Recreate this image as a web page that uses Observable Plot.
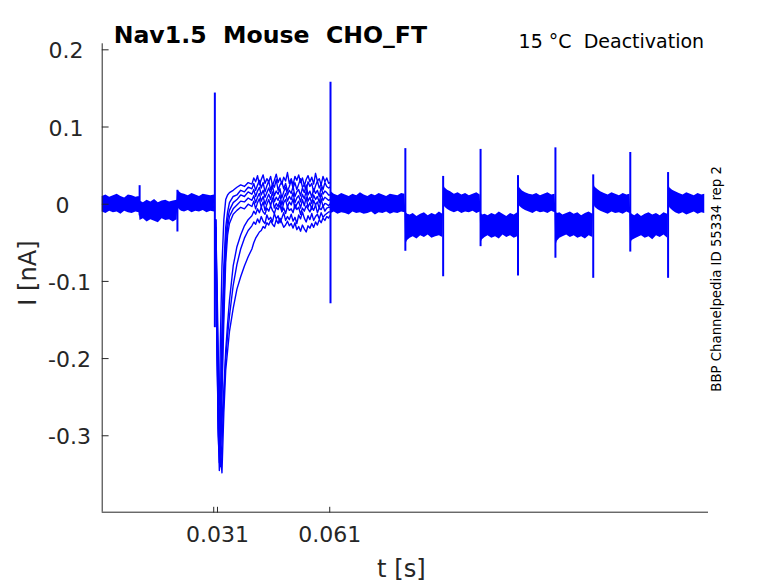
<!DOCTYPE html>
<html><head><meta charset="utf-8">
<script src="https://cdn.jsdelivr.net/npm/d3@7"></script>
<script src="https://cdn.jsdelivr.net/npm/@observablehq/plot@0.6"></script>
<style>html,body{margin:0;padding:0;background:#fff;} svg text{white-space:pre;}</style>
</head><body><div id="chart"></div>
<script>
// ---- texts ----
const titleText = "Nav1.5  Mouse  CHO_FT";
const conditionText = "15 °C  Deactivation";
const sideText = "BBP Channelpedia ID 55334 rep 2";
const xLabel = "t [s]";
const yLabel = "I [nA]";

// ---- ticks (time in ms, current in nA) ----
const xTicks = [30, 31, 61];
const xTickLabels = ["", "0.031", "0.061"];
const yTicks = [0.2, 0.1, 0, -0.1, -0.2, -0.3];

// ---- common noise band before the test step (time ms, low/high nA) ----
const preT  = [0.2, 1.2, 2.2, 3.2, 4.2, 5.2, 6.2, 7.2, 8.2, 9.2, 10.1,
               10.3, 11.2, 12.2, 13.2, 14.2, 15.2, 16.2, 17.2, 18.2, 19.2, 20.2,
               20.4, 20.8, 21.4, 22.2, 23.2, 24.2, 25.2, 26.2, 27.2, 28.2, 29.2, 30.2];
const preHi = [0.010, 0.012, 0.009, 0.011, 0.013, 0.010, 0.008, 0.012, 0.011, 0.009, 0.010,
               0.004, 0.002, 0.005, 0.003, 0.006, 0.002, 0.004, 0.005, 0.003, 0.004, 0.005,
               0.018, 0.016, 0.014, 0.013, 0.011, 0.014, 0.012, 0.010, 0.013, 0.012, 0.011, 0.012];
const preLo = [-0.010, -0.012, -0.009, -0.011, -0.010, -0.013, -0.009, -0.011, -0.012, -0.010, -0.011,
               -0.021, -0.019, -0.023, -0.020, -0.022, -0.024, -0.019, -0.021, -0.020, -0.023, -0.020,
               -0.004, -0.007, -0.009, -0.010, -0.008, -0.011, -0.009, -0.010, -0.008, -0.011, -0.009, -0.010];

// ---- common noise band after the test step ----
const postT = [61.4, 62.2, 63.2, 64.2, 65.2, 66.2, 67.2, 68.2, 69.2, 70.2, 71.2, 72.2, 73.2, 74.2, 75.2, 76.2, 77.2, 78.2, 79.2, 80.2, 81.1,
  81.3, 81.8, 82.5, 83.3, 84.3, 85.3, 86.3, 87.3, 88.3, 89.3, 90.3, 91.2,
  91.4, 91.8, 92.5, 93.3, 94.3, 95.3, 96.3, 97.3, 98.3, 99.3, 100.3, 101.2,
  101.4, 101.8, 102.5, 103.3, 104.3, 105.3, 106.3, 107.3, 108.3, 109.3, 110.3, 111.2,
  111.4, 111.8, 112.5, 113.3, 114.3, 115.3, 116.3, 117.3, 118.3, 119.3, 120.3, 121.2,
  121.4, 121.8, 122.5, 123.3, 124.3, 125.3, 126.3, 127.3, 128.3, 129.3, 130.3, 131.3,
  131.5, 131.9, 132.6, 133.4, 134.4, 135.4, 136.4, 137.4, 138.4, 139.4, 140.4, 141.2,
  141.4, 141.8, 142.5, 143.3, 144.3, 145.3, 146.3, 147.3, 148.3, 149.3, 150.3, 151.3,
  151.5, 151.9, 152.6, 153.4, 154.4, 155.4, 156.4, 157.4, 158.4, 159.4, 160.4, 161.2];
const postHi = [0.016, 0.013, 0.011, 0.014, 0.012, 0.010, 0.013, 0.011, 0.015, 0.012, 0.010, 0.013, 0.011, 0.014, 0.012, 0.010, 0.013, 0.012, 0.011, 0.014, 0.013,
  -0.010, -0.013, -0.014, -0.012, -0.016, -0.013, -0.011, -0.015, -0.012, -0.014, -0.010, -0.013,
  0.026, 0.021, 0.018, 0.016, 0.013, 0.015, 0.012, 0.014, 0.011, 0.013, 0.015, 0.012,
  -0.011, -0.014, -0.013, -0.015, -0.012, -0.014, -0.010, -0.013, -0.016, -0.012, -0.014, -0.011,
  0.025, 0.021, 0.017, 0.015, 0.013, 0.012, 0.014, 0.011, 0.013, 0.015, 0.012, 0.013,
  -0.009, -0.012, -0.011, -0.014, -0.012, -0.010, -0.013, -0.011, -0.015, -0.012, -0.010, -0.013,
  0.027, 0.022, 0.019, 0.016, 0.014, 0.012, 0.015, 0.013, 0.011, 0.014, 0.012, 0.013,
  -0.010, -0.013, -0.015, -0.012, -0.016, -0.013, -0.011, -0.014, -0.012, -0.015, -0.011, -0.013,
  0.026, 0.021, 0.018, 0.016, 0.014, 0.012, 0.015, 0.013, 0.011, 0.014, 0.012, 0.013];
const postLo = [-0.012, -0.010, -0.013, -0.011, -0.012, -0.014, -0.010, -0.012, -0.011, -0.013, -0.012, -0.010, -0.014, -0.011, -0.012, -0.010, -0.013, -0.011, -0.012, -0.010, -0.011,
  -0.052, -0.047, -0.044, -0.042, -0.045, -0.041, -0.043, -0.040, -0.044, -0.042, -0.041, -0.043,
  0.000, -0.004, -0.007, -0.009, -0.011, -0.009, -0.012, -0.010, -0.011, -0.009, -0.012, -0.010,
  -0.050, -0.046, -0.043, -0.041, -0.044, -0.042, -0.045, -0.040, -0.043, -0.041, -0.044, -0.042,
  0.001, -0.003, -0.006, -0.008, -0.010, -0.012, -0.009, -0.011, -0.010, -0.012, -0.009, -0.011,
  -0.054, -0.048, -0.044, -0.042, -0.040, -0.043, -0.041, -0.044, -0.042, -0.045, -0.041, -0.043,
  0.001, -0.004, -0.007, -0.009, -0.011, -0.013, -0.010, -0.012, -0.011, -0.013, -0.010, -0.012,
  -0.052, -0.047, -0.045, -0.043, -0.041, -0.044, -0.042, -0.046, -0.041, -0.043, -0.040, -0.044,
  0.000, -0.005, -0.008, -0.011, -0.013, -0.011, -0.014, -0.012, -0.010, -0.013, -0.011, -0.012];

// ---- capacitive transients ----
const spikeT  = [10.2, 20.3, 30.3, 61.2, 81.2, 91.3, 101.3, 111.3, 121.3, 131.4, 141.3, 151.4];
const spikeHi = [0.024, 0.018, 0.144, 0.158, 0.072, 0.036, 0.071, 0.037, 0.073, 0.038, 0.067, 0.041];
const spikeLo = [-0.015, -0.036, -0.160, -0.129, -0.061, -0.094, -0.055, -0.093, -0.070, -0.096, -0.062, -0.096];

// ---- individual sweeps during the test step ----
const sweepT = [30.5, 30.8, 31.2, 31.5, 31.8, 32.2, 32.7, 33.2, 33.7, 34.2, 35.2, 36.2, 37.2, 38.2, 39.2,
  40.2, 40.7, 41.2, 41.7, 42.2, 42.7, 43.2, 43.7, 44.2, 44.7, 45.2, 45.7, 46.2, 46.7, 47.2, 47.7, 48.2, 48.7, 49.2, 49.7,
  50.2, 50.7, 51.2, 51.7, 52.2, 52.7, 53.2, 53.7, 54.2, 54.7, 55.2, 55.7, 56.2, 56.7, 57.2, 57.7, 58.2, 58.7, 59.2, 59.7,
  60.2, 60.7, 61.0];
const sweep1 = [-0.02, -0.12, -0.24, -0.26, -0.17, -0.08, -0.02, 0.006, 0.012, 0.015, 0.018, 0.022, 0.025, 0.023, 0.028,
  0.026, 0.034, 0.029, 0.037, 0.025, 0.032, 0.038, 0.027, 0.033, 0.029, 0.036, 0.024, 0.031, 0.039, 0.028, 0.034, 0.026, 0.035, 0.030, 0.041,
  0.027, 0.033, 0.025, 0.036, 0.031, 0.038, 0.028, 0.034, 0.024, 0.032, 0.037, 0.029, 0.035, 0.026, 0.040, 0.030, 0.033, 0.025, 0.036, 0.029,
  0.034, 0.027, 0.028];
const sweep2 = [-0.02, -0.14, -0.27, -0.30, -0.25, -0.16, -0.08, -0.03, -0.01, 0.002, 0.010, 0.012, 0.018, 0.016, 0.022,
  0.020, 0.027, 0.018, 0.025, 0.031, 0.021, 0.028, 0.016, 0.024, 0.030, 0.019, 0.026, 0.022, 0.032, 0.018, 0.025, 0.029, 0.020, 0.027, 0.017,
  0.023, 0.031, 0.021, 0.028, 0.019, 0.026, 0.033, 0.022, 0.025, 0.018, 0.029, 0.023, 0.027, 0.016, 0.024, 0.030, 0.021, 0.026, 0.019, 0.028,
  0.023, 0.021, 0.022];
const sweep3 = [-0.03, -0.16, -0.29, -0.32, -0.28, -0.19, -0.10, -0.045, -0.02, -0.008, 0.002, 0.006, 0.012, 0.010, 0.016,
  0.013, 0.019, 0.010, 0.017, 0.022, 0.012, 0.018, 0.009, 0.015, 0.021, 0.014, 0.024, 0.011, 0.017, 0.013, 0.020, 0.008, 0.016, 0.022, 0.012,
  0.018, 0.014, 0.023, 0.010, 0.016, 0.019, 0.011, 0.021, 0.015, 0.025, 0.012, 0.017, 0.009, 0.020, 0.014, 0.018, 0.010, 0.022, 0.013, 0.017,
  0.015, 0.012, 0.012];
const sweep4 = [-0.03, -0.15, -0.30, -0.335, -0.31, -0.22, -0.13, -0.06, -0.03, -0.016, -0.006, -0.001, 0.004, 0.003, 0.008,
  0.005, 0.011, 0.002, 0.009, 0.014, 0.004, 0.010, 0.000, 0.007, 0.013, 0.006, 0.016, 0.003, 0.009, 0.005, 0.012, -0.001, 0.008, 0.014, 0.004,
  0.010, 0.006, 0.015, 0.002, 0.008, 0.011, 0.003, 0.013, 0.007, 0.017, 0.004, 0.009, 0.001, 0.012, 0.006, 0.010, 0.002, 0.014, 0.005, 0.009,
  0.007, 0.005, 0.006];
const sweep5 = [-0.03, -0.14, -0.29, -0.345, -0.33, -0.25, -0.15, -0.075, -0.04, -0.025, -0.013, -0.008, -0.004, -0.006, 0.000,
  -0.003, 0.004, -0.006, 0.002, 0.007, -0.004, 0.003, -0.008, 0.000, 0.006, -0.002, 0.008, -0.005, 0.001, -0.003, 0.005, -0.009, 0.002, 0.006, -0.004,
  0.003, -0.001, 0.007, -0.006, 0.000, 0.004, -0.005, 0.006, -0.002, 0.009, -0.004, 0.002, -0.007, 0.005, -0.001, 0.003, -0.006, 0.007, -0.003, 0.001,
  0.000, -0.002, 0.000];
const sweep6 = [-0.02, -0.12, -0.26, -0.32, -0.31, -0.28, -0.24, -0.19, -0.155, -0.125, -0.08, -0.055, -0.04, -0.028, -0.02,
  -0.015, -0.009, -0.013, -0.006, -0.011, -0.004, -0.010, -0.013, -0.005, -0.009, -0.002, -0.008, -0.012, -0.004, -0.007, -0.001, -0.010, -0.005, -0.012, -0.003,
  -0.008, -0.006, -0.011, 0.000, -0.007, -0.004, -0.013, -0.005, -0.009, -0.002, -0.006, -0.010, -0.003, -0.008, -0.001, -0.011, -0.005, -0.007, -0.002, -0.009,
  -0.005, -0.004, -0.004];
const sweep7 = [-0.02, -0.10, -0.23, -0.31, -0.34, -0.31, -0.25, -0.20, -0.17, -0.145, -0.105, -0.078, -0.058, -0.044, -0.034,
  -0.028, -0.023, -0.026, -0.019, -0.024, -0.016, -0.022, -0.025, -0.014, -0.020, -0.017, -0.023, -0.012, -0.019, -0.015, -0.024, -0.018, -0.011, -0.021, -0.016,
  -0.020, -0.013, -0.022, -0.017, -0.025, -0.014, -0.019, -0.010, -0.018, -0.023, -0.015, -0.020, -0.012, -0.021, -0.016, -0.013, -0.019, -0.011, -0.017, -0.014,
  -0.012, -0.010, -0.010];
const sweep8 = [-0.02, -0.08, -0.19, -0.27, -0.32, -0.348, -0.27, -0.215, -0.19, -0.165, -0.135, -0.11, -0.094, -0.08, -0.068,
  -0.058, -0.050, -0.044, -0.040, -0.036, -0.034, -0.029, -0.031, -0.024, -0.027, -0.021, -0.026, -0.029, -0.020, -0.025, -0.018, -0.024, -0.030, -0.027, -0.022,
  -0.028, -0.025, -0.031, -0.024, -0.033, -0.029, -0.035, -0.027, -0.032, -0.036, -0.028, -0.031, -0.025, -0.030, -0.023, -0.027, -0.020, -0.024, -0.018, -0.021,
  -0.016, -0.018, -0.015];
const sweeps = [sweep1, sweep2, sweep3, sweep4, sweep5, sweep6, sweep7, sweep8];

// ---- build tables ----
const preRows = preT.map((t, k) => ({t, lo: preLo[k], hi: preHi[k]}));
const postRows = postT.map((t, k) => ({t, lo: postLo[k], hi: postHi[k]}));
const spikeRows = spikeT.map((t, k) => ({t, lo: spikeLo[k], hi: spikeHi[k]}));
const sweepRows = sweeps.flatMap((s, j) => s.map((v, k) => ({t: sweepT[k], i: v, sweep: j})));
const xTickRows = xTicks.map((t, k) => ({t, label: xTickLabels[k]}));

const blue = "#0000ff";
const axisColor = "#262626";
const font = "DejaVu Sans";
const xDomain = [0.2, 162.2];
const yDomain = [-0.399, 0.2078];
const tickShape = {draw(context, l) { context.moveTo(0, 0); context.lineTo(0, -l); }};
const fmtY = d => String(d);

const chart = Plot.plot({
  width: 778, height: 583,
  marginLeft: 101.7, marginRight: 70, marginTop: 43.3, marginBottom: 71.3,
  style: {fontFamily: font, background: "white", overflow: "visible"},
  x: {domain: xDomain, axis: null},
  y: {domain: yDomain, axis: null},
  marks: [
    Plot.areaY(preRows, {x: "t", y1: "lo", y2: "hi", fill: blue}),
    Plot.areaY(postRows, {x: "t", y1: "lo", y2: "hi", fill: blue}),
    Plot.line(sweepRows, {x: "t", y: "i", z: "sweep", stroke: blue, strokeWidth: 1.4}),
    Plot.ruleX(spikeRows, {x: "t", y1: "lo", y2: "hi", stroke: blue, strokeWidth: 2}),
    Plot.ruleX([xDomain[0]], {stroke: axisColor, strokeWidth: 1}),
    Plot.ruleY([yDomain[0]], {stroke: axisColor, strokeWidth: 1}),
    Plot.vector(yTicks, {x: () => xDomain[0], y: d => d, length: 6, rotate: 90, anchor: "start", shape: tickShape, stroke: axisColor, strokeWidth: 1}),
    Plot.vector(xTicks, {x: d => d, y: () => yDomain[0], length: 5, rotate: 0, anchor: "start", shape: tickShape, stroke: axisColor, strokeWidth: 1}),
    Plot.text(yTicks.filter(d => d > 0), {y: d => d, text: fmtY, frameAnchor: "left", textAnchor: "middle", lineAnchor: "bottom", dx: -36.2, dy: 8.5, fontSize: 22, fill: axisColor}),
    Plot.text(yTicks.filter(d => d === 0), {y: d => d, text: fmtY, frameAnchor: "left", textAnchor: "middle", lineAnchor: "bottom", dx: -39.6, dy: 8.5, fontSize: 22, fill: axisColor}),
    Plot.text(yTicks.filter(d => d < 0), {y: d => d, text: fmtY, frameAnchor: "left", textAnchor: "middle", lineAnchor: "bottom", dx: -32.7, dy: 8.5, fontSize: 22, fill: axisColor}),
    Plot.text(xTickRows.filter(d => d.label), {x: "t", text: "label", frameAnchor: "bottom", textAnchor: "middle", lineAnchor: "bottom", dy: 30, fontSize: 22, fill: axisColor}),
    Plot.text([xLabel], {text: d => d, frameAnchor: "bottom", textAnchor: "middle", lineAnchor: "bottom", dx: -4, dy: 65, fontSize: 24.2, fill: axisColor}),
    Plot.text([yLabel], {text: d => d, frameAnchor: "left", textAnchor: "middle", lineAnchor: "bottom", rotate: -90, dx: -66.5, dy: -5, fontSize: 24.2, fill: axisColor}),
    Plot.text([titleText], {text: d => d, frameAnchor: "top-left", textAnchor: "start", lineAnchor: "bottom", dx: 11.5, dy: -0.6, fontSize: 23.6, fontWeight: "bold", fill: "black"}),
    Plot.text([conditionText], {text: d => d, frameAnchor: "top-right", textAnchor: "end", lineAnchor: "bottom", dx: -4.4, dy: 4, fontSize: 19, fill: "black"}),
    Plot.text([sideText], {text: d => d, frameAnchor: "right", textAnchor: "middle", lineAnchor: "bottom", rotate: -90, dx: 12.4, dy: 0.9, fontSize: 13.3, fill: "black"})
  ]
});
document.getElementById("chart").appendChild(chart);
</script>
</body></html>
